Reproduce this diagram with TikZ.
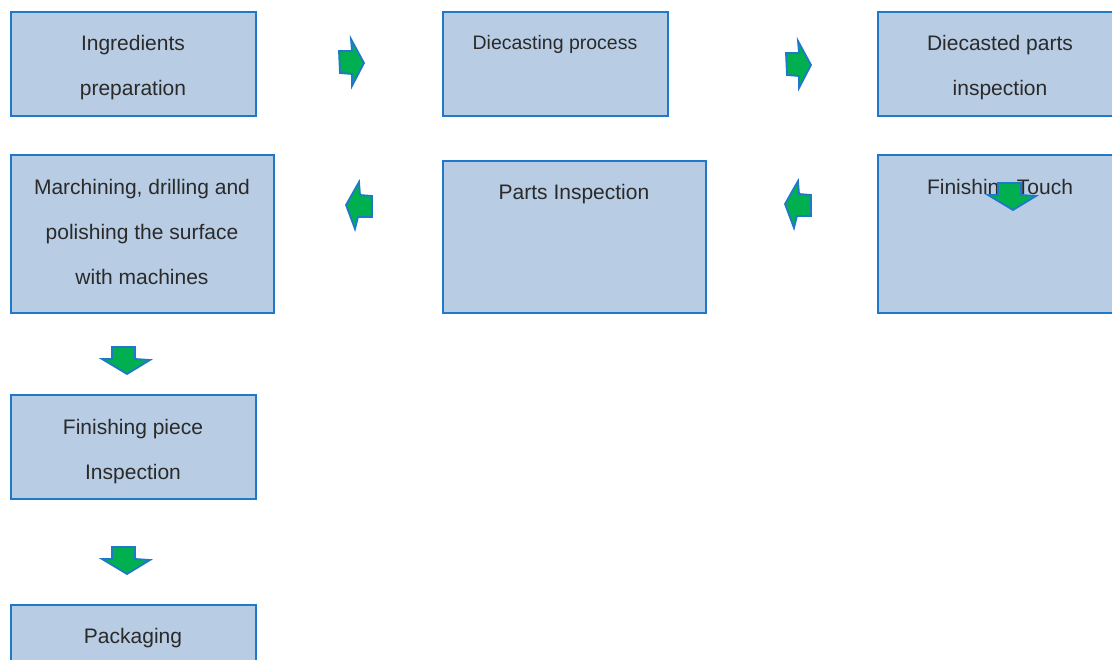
\documentclass[tikz,border=0pt]{standalone}
\usepackage{fontspec}
\setmainfont{Liberation Sans}
\definecolor{boxfill}{HTML}{B8CCE4}
\definecolor{boxline}{HTML}{1F78C8}
\definecolor{arrfill}{HTML}{00B050}
\definecolor{txt}{HTML}{2A2A2A}
\begin{document}
\begin{tikzpicture}[x=1pt,y=-1pt,
  stagebox/.style={draw=boxline,fill=boxfill,line width=1.8pt,rectangle,anchor=north west,inner sep=0pt},
  lbl/.style={text=txt,font=\fontsize{21}{45}\selectfont,align=center,inner sep=0pt},
  blockarrow/.style={draw=boxline,fill=arrfill,line width=1.8pt,line join=miter},
  rarrow/.pic={\draw[blockarrow] (0,12)--(13,12)--(12,0)--(25,24)--(13,47)--(13,35)--(1,34)--cycle;},
  larrow/.pic={\draw[blockarrow] (0,23)--(13,0)--(14,13)--(26,14)--(26,35)--(12,35)--(9,47)--cycle;},
  darrow/.pic={\draw[blockarrow] (10,0)--(33,0)--(33,12)--(48,13)--(25,27)--(0,12)--(10,12)--cycle;}
]
\useasboundingbox (0,0) rectangle (1112,660);
\clip (0,0) rectangle (1112,660);
% boxes
\node[stagebox,minimum width=245pt,minimum height=104pt] (b1) at (10,11) {};
\node[stagebox,minimum width=225pt,minimum height=104pt] (b2) at (442,11) {};
\node[stagebox,minimum width=246pt,minimum height=104pt] (b3) at (877,11) {};
\node[stagebox,minimum width=263pt,minimum height=158pt] (b4) at (10,154) {};
\node[stagebox,minimum width=263pt,minimum height=152pt] (b5) at (442,160) {};
\node[stagebox,minimum width=246pt,minimum height=158pt] (b6) at (877,154) {};
\node[stagebox,minimum width=245pt,minimum height=104pt] (b7) at (10,394) {};
\node[stagebox,minimum width=245pt,minimum height=104pt] (b8) at (10,604) {};
% labels
\node[lbl] (t1) at (133,68) {Ingredients\\preparation};
\node[lbl,font=\fontsize{19.5}{45}\selectfont] (t2) at (555,44) {Diecasting process};
\node[lbl] (t3) at (1000,68) {Diecasted parts\\inspection};
\node[lbl] (t4) at (142,232) {Marchining, drilling and\\polishing the surface\\with machines};
\node[lbl] (t5) at (574,194) {Parts Inspection};
\node[lbl] (t6) at (1000,189) {Finishing Touch};
\node[lbl] (t7) at (133,451.5) {Finishing piece\\Inspection};
\node[lbl] (t8) at (133,638) {Packaging};
% arrows
\pic at (339,39) {rarrow};
\pic at (786,41) {rarrow};
\pic at (346,182) {larrow};
\pic at (785,181) {larrow};
\pic at (988,183) {darrow};
\pic at (102,347) {darrow};
\pic at (102,547) {darrow};
\end{tikzpicture}
\end{document}
